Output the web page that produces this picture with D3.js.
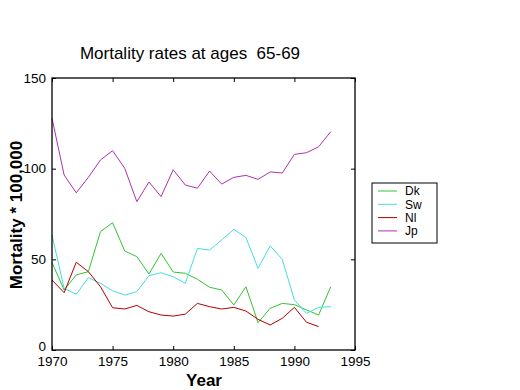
<!DOCTYPE html>
<html><head><meta charset="utf-8">
<script src="https://cdn.jsdelivr.net/npm/d3@7/dist/d3.min.js"></script>
<style>body{margin:0;background:#fff}svg{display:block}text{font-family:"Liberation Sans",Arial,sans-serif}</style>
</head><body><svg id="c" width="520" height="390"></svg>
<script>
const years = d3.range(1970, 1994);
const dk = [48.2,33.1,41.4,43.2,65.3,70.2,54.6,51.5,41.9,53.3,43,42.3,39,34.6,33.1,24.8,34.9,15.1,23,25.7,25,22.1,19.3,34.9];
const sw = [63.4,34,30.7,39.9,36.8,32.7,30.3,32.2,41,42.6,40.4,36.8,56,55.1,60.7,66.5,62.1,45,57.4,50,27.6,20.2,23.5,23.9];
const nl = [38.6,31.6,48.4,43.2,34.9,23.3,22.6,24.6,21.1,19.3,18.7,19.8,25.7,23.9,22.6,23.5,21.5,16.9,13.8,17.5,23.5,15.3,12.9];
const jp = [127.8,96.5,86.7,95.2,104.8,109.9,100.2,81.8,92.6,84.6,99.4,91,89.2,98.7,91.5,95.2,96.3,94.1,98.2,97.6,107.9,108.8,112.1,120.4];
const seriesNames = ["Dk","Sw","Nl","Jp"];
const seriesData = [dk, sw, nl, jp];
const colors = ["#33c433","#44dede","#b00000","#b030b0"];
const xTicks = [1970,1975,1980,1985,1990,1995];
const yTicks = [0,50,100,150];
const title = "Mortality rates at ages  65-69";

const svg = d3.select("#c");
const L=52,R=355,T=78,B=350;
const x = d3.scaleLinear().domain([1970,1995]).range([L,R]);
const y = d3.scaleLinear().domain([0,150]).range([B,T]);

const line = d3.line().x((d,i)=>x(years[i])).y(d=>y(d));
seriesData.forEach((s,k)=>{
  svg.append("path").datum(s).attr("d",line).attr("fill","none")
    .attr("stroke",colors[k]).attr("stroke-width",1);
});

svg.append("rect").attr("x",L).attr("y",T).attr("width",R-L).attr("height",B-T)
  .attr("fill","none").attr("stroke","#000").attr("stroke-width",1.3);

const ax = svg.append("g").attr("transform",`translate(0,${B})`)
  .call(d3.axisBottom(x).tickValues(xTicks).tickFormat(d3.format("d")).tickSizeInner(-4).tickSizeOuter(0).tickPadding(6));
const axT = svg.append("g").attr("transform",`translate(0,${T})`)
  .call(d3.axisTop(x).tickValues(xTicks).tickFormat("").tickSizeInner(-4).tickSizeOuter(0));
const ay = svg.append("g").attr("transform",`translate(${L},0)`)
  .call(d3.axisLeft(y).tickValues(yTicks).tickSizeInner(-4).tickSizeOuter(0).tickPadding(6));
const ayR = svg.append("g").attr("transform",`translate(${R},0)`)
  .call(d3.axisRight(y).tickValues(yTicks).tickFormat("").tickSizeInner(-4).tickSizeOuter(0));
[ax,axT,ay,ayR].forEach(g=>{
  g.select(".domain").remove();
  g.selectAll("line").attr("stroke","#000");
  g.selectAll("text").attr("font-size",13.5).attr("fill","#000").attr("font-family","'Liberation Sans',Arial,sans-serif");
});
ax.selectAll("text").attr("dy","0.72em");
ay.selectAll("text").filter(d=>d===0).attr("dy","0.05em");

svg.append("text").attr("x",190).attr("y",59).attr("text-anchor","middle")
  .attr("font-size",17).style("white-space","pre").text(title);
svg.append("text").attr("x",204).attr("y",386).attr("text-anchor","middle")
  .attr("font-size",17).attr("font-weight","bold").text("Year");
svg.append("text").attr("transform","translate(22,215) rotate(-90)").attr("text-anchor","middle")
  .attr("font-size",17).attr("font-weight","bold").text("Mortality * 100,000");

const lg = svg.append("g");
lg.append("rect").attr("x",372).attr("y",183).attr("width",65).attr("height",60)
  .attr("fill","#fff").attr("stroke","#000").attr("stroke-width",1);
seriesNames.forEach((n,k)=>{
  const yy = 191 + k*13.3;
  lg.append("line").attr("x1",378).attr("x2",397).attr("y1",yy).attr("y2",yy)
    .attr("stroke",colors[k]).attr("stroke-width",1);
  lg.append("text").attr("x",405).attr("y",yy).attr("dy","0.36em")
    .attr("font-size",12).text(n);
});
</script></body></html>
